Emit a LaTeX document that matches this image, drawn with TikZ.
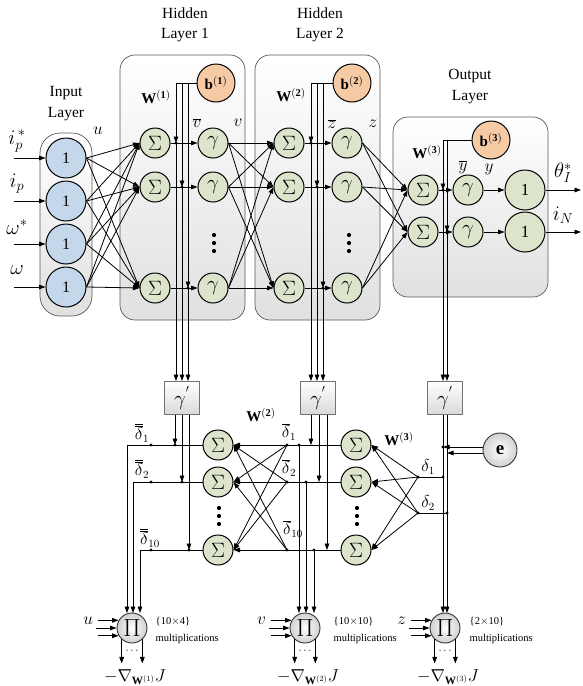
\documentclass[tikz,border=0pt]{standalone}
\usepackage{fontspec}
\setmainfont{Liberation Serif}
\usetikzlibrary{arrows.meta}
\definecolor{nblue}{HTML}{C5D8EB}
\definecolor{ngreen}{HTML}{DCE5CB}
\definecolor{npeach}{HTML}{F7CAA6}
\begin{document}
\begin{tikzpicture}[x=1pt,y=-1pt,
  >={Triangle[length=6.5pt,width=4.6pt]},
  line width=0.8pt,
  every node/.style={font=\fontsize{12}{14}\selectfont},
  neuron/.style={circle,draw,line width=1pt,fill=ngreen,minimum size=30pt,inner sep=0pt,font=\fontsize{21}{23}\selectfont},
  innode/.style={neuron,fill=nblue,minimum size=40pt,font=\fontsize{16}{18}\selectfont},
  unitnode/.style={neuron,minimum size=40pt,font=\fontsize{17}{19}\selectfont},
  biasnode/.style={neuron,fill=npeach,minimum size=38pt,font=\fontsize{15}{17}\selectfont},
  layerbox/.style={draw=black!65,line width=0.7pt,rounded corners=15pt,top color=white,bottom color=black!12},
  gpbox/.style={draw=black!55,line width=0.7pt,top color=white,bottom color=black!15,minimum width=35pt,minimum height=33pt,inner sep=0pt,font=\fontsize{22}{24}\selectfont},
  pinode/.style={circle,draw=black!80,line width=0.9pt,inner color=white,outer color=black!18,minimum size=30pt,inner sep=0pt,font=\fontsize{24}{26}\selectfont},
  conn/.style={->},
  ttl/.style={font=\fontsize{15.5}{18}\selectfont},
  lbl/.style={font=\fontsize{16}{18}\selectfont},
  biglbl/.style={font=\fontsize{20}{22}\selectfont},
  wlbl/.style={font=\fontsize{15}{17}\selectfont},
  small/.style={font=\fontsize{10.5}{12}\selectfont},
]
\useasboundingbox (0,0) rectangle (582,686);

% ---------- layer boxes
\draw[layerbox,rounded corners=20pt] (40,133) rectangle (92,316);
\draw[layerbox] (120,55) rectangle (245,320);
\draw[layerbox] (255,55) rectangle (380,320);
\draw[layerbox] (393,117) rectangle (548,297);

% ---------- titles
\node[ttl] (t1) at (66,93) {Input};
\node[ttl] (t2) at (66,114) {Layer};
\node[ttl] (t3) at (185,13) {Hidden};
\node[ttl] (t4) at (185,35) {Layer 1};
\node[ttl] (t5) at (320,13) {Hidden};
\node[ttl] (t6) at (320,35) {Layer 2};
\node[ttl] (t7) at (470,76) {Output};
\node[ttl] (t8) at (470,97) {Layer};

% ---------- input layer
\node[innode] (in1) at (66,158) {1};
\node[innode] (in2) at (66,201) {1};
\node[innode] (in3) at (66,244) {1};
\node[innode] (in4) at (66,287) {1};
\coordinate (x1) at (14,158);
\coordinate (x2) at (14,201);
\coordinate (x3) at (14,244);
\coordinate (x4) at (14,287);
\foreach \i in {1,...,4} \draw[conn] (x\i) -- (in\i);
\node[biglbl] (li1) at (17,141) {$i_p^{\,*}$};
\node[biglbl] (li2) at (17,184) {$i_p$};
\node[biglbl] (li3) at (17,227) {$\omega^{*}$};
\node[biglbl] (li4) at (17,270) {$\omega$};
\node[lbl] (lu) at (98,131) {$u$};

% ---------- hidden layer 1
\node[neuron] (h1s1) at (155,143) {$\Sigma$};
\node[neuron] (h1s2) at (155,187) {$\Sigma$};
\node[neuron] (h1s3) at (155,288) {$\Sigma$};
\node[neuron] (h1g1) at (213,143) {$\gamma$};
\node[neuron] (h1g2) at (213,187) {$\gamma$};
\node[neuron] (h1g3) at (213,288) {$\gamma$};
\node[biasnode] (b1) at (216,83) {\textbf{b}$^{\mathbf{(1)}}$};
\node[wlbl] (w1) at (156,97) {\textbf{W}$^{\mathbf{(1)}}$};
\node[lbl] (lv1) at (197,123) {$\overline{v}$};
\node[lbl] (lv2) at (238,123) {$v$};
\foreach \y in {235,243,251} \fill (214,\y) circle (2.1);

% ---------- hidden layer 2
\node[neuron] (h2s1) at (289,143) {$\Sigma$};
\node[neuron] (h2s2) at (289,187) {$\Sigma$};
\node[neuron] (h2s3) at (289,288) {$\Sigma$};
\node[neuron] (h2g1) at (347,143) {$\gamma$};
\node[neuron] (h2g2) at (347,187) {$\gamma$};
\node[neuron] (h2g3) at (347,288) {$\gamma$};
\node[biasnode] (b2) at (352,83) {\textbf{b}$^{\mathbf{(2)}}$};
\node[wlbl] (w2) at (291,95) {\textbf{W}$^{\mathbf{(2)}}$};
\node[lbl] (lz1) at (332,124) {$\overline{z}$};
\node[lbl] (lz2) at (373,124) {$z$};
\foreach \y in {235,243,251} \fill (349,\y) circle (2.1);

% ---------- output layer
\node[neuron] (os1) at (423,190) {$\Sigma$};
\node[neuron] (os2) at (423,232) {$\Sigma$};
\node[neuron] (og1) at (468,190) {$\gamma$};
\node[neuron] (og2) at (468,232) {$\gamma$};
\node[unitnode] (oo1) at (525,190) {1};
\node[unitnode] (oo2) at (525,232) {1};
\node[biasnode] (b3) at (491,140) {\textbf{b}$^{\mathbf{(3)}}$};
\node[wlbl] (w3) at (427,152) {\textbf{W}$^{\mathbf{(3)}}$};
\node[lbl] (ly1) at (463,167) {$\overline{y}$};
\node[lbl] (ly2) at (489,169) {$y$};
\coordinate (y1) at (581,190);
\coordinate (y2) at (581,232);
\node[biglbl] (lth) at (563,173) {$\theta_I^{*}$};
\node[biglbl] (liN) at (563,215) {$i_N$};

% ---------- forward connections
\foreach \i in {1,...,4} \foreach \j in {1,2,3} \draw[conn] (in\i.east) -- (h1s\j.west);
\foreach \i in {1,2,3} \draw[conn] (h1s\i) -- (h1g\i);
\foreach \i in {1,2,3} \foreach \j in {1,2,3} \draw[conn] (h1g\i.east) -- (h2s\j.west);
\foreach \i in {1,2,3} \draw[conn] (h2s\i) -- (h2g\i);
\foreach \i in {1,2,3} \foreach \j in {1,2} \draw[conn] (h2g\i.east) -- (os\j.west);
\foreach \j in {1,2} {\draw[conn] (os\j) -- (og\j); \draw[conn] (og\j) -- (oo\j); \draw[conn] (oo\j) -- (y\j);}

% ---------- derivative boxes
\node[gpbox] (gp1) at (182,398) {$\gamma^{'}$};
\node[gpbox] (gp2) at (318,398) {$\gamma^{'}$};
\node[gpbox] (gp3) at (445,398) {$\gamma^{'}$};

% bias lines layer 1
\draw (b1.west) -- (176,83);
\draw[conn] (176,83) -- (176,143);
\draw[conn] (182,83) -- (182,187);
\draw[conn] (188,83) -- (188,288);
\foreach \x/\y in {176/143,182/187,188/288} {\fill (\x,\y) circle (1.7); \draw[conn] (\x,\y) -- (\x,381);}
% bias lines layer 2
\draw (b2.west) -- (311,83);
\draw[conn] (311,83) -- (311,143);
\draw[conn] (317,83) -- (317,187);
\draw[conn] (323,83) -- (323,288);
\foreach \x/\y in {311/143,317/187,323/288} {\fill (\x,\y) circle (1.7); \draw[conn] (\x,\y) -- (\x,381);}
% bias lines output
\draw (b3.west) -- (443,140);
\draw[conn] (443,140) -- (443,190);
\draw[conn] (447,140) -- (447,232);
\foreach \x/\y in {443/190,447/232} {\fill (\x,\y) circle (1.7); \draw[conn] (\x,\y) -- (\x,381);}

% ---------- backward sums
\node[neuron] (bl1) at (218,445) {$\Sigma$};
\node[neuron] (bl2) at (218,482) {$\Sigma$};
\node[neuron] (bl3) at (218,550) {$\Sigma$};
\node[neuron] (br1) at (356,445) {$\Sigma$};
\node[neuron] (br2) at (356,482) {$\Sigma$};
\node[neuron] (br3) at (356,550) {$\Sigma$};
\foreach \y in {508,516,524} {\fill (219,\y) circle (2.1); \fill (357,\y) circle (2.1);}
\node[wlbl] (w2b) at (261,415) {\textbf{W}$^{\mathbf{(2)}}$};
\node[wlbl] (w3b) at (399,439) {\textbf{W}$^{\mathbf{(3)}}$};

% error node
\node[pinode,minimum size=34pt,font=\bfseries\fontsize{19}{21}\selectfont] (e) at (500,450) {e};

% ---------- multiplier nodes
\node[pinode] (p1) at (132,628) {$\Pi$};
\node[pinode] (p2) at (305,628) {$\Pi$};
\node[pinode] (p3) at (445,628) {$\Pi$};

% delta points on right
\coordinate (d1) at (418,477);
\coordinate (d2) at (418,513);
\fill (d1) circle (1.7);
\fill (d2) circle (1.7);
\node[lbl] (ld1) at (428,467) {$\delta_1$};
\node[lbl] (ld2) at (428,503) {$\delta_2$};
\foreach \j in {1,2,3} {\draw[conn] (d1) -- (br\j.east); \draw[conn] (d2) -- (br\j.east);}
\draw (d1) -- (443,477); \fill (443,477) circle (1.7);
\draw (d2) -- (447,513); \fill (447,513) circle (1.7);
\draw[conn] (443,415) -- (443,613);
\draw[conn] (447,415) -- (447,613);
\draw[conn] (e.west |- 0,447) -- (443,447); \fill (443,447) circle (1.7);
\draw[conn] (e.west |- 0,453) -- (447,453);

% middle rows (delta bar)
\foreach \i/\y/\xd/\xg in {1/445/299/311,2/482/306/319,3/550/314/327} {
  \draw[conn] (br\i.west) -- (bl\i.east);
  \fill (287,\y) circle (1.7);
  \fill (\xd,\y) circle (1.7);
  \draw[conn] (\xd,\y) -- (\xd,613);
  \draw[conn] (\xg,415) -- (\xg,\y);
}
\coordinate (m1) at (287,445);
\coordinate (m2) at (287,482);
\coordinate (m3) at (287,550);
\draw[conn] (m1) -- (bl2.east); \draw[conn] (m1) -- (bl3.east);
\draw[conn] (m2) -- (bl1.east); \draw[conn] (m2) -- (bl3.east);
\draw[conn] (m3) -- (bl1.east); \draw[conn] (m3) -- (bl2.east);
\node[lbl] (lm1) at (289,432) {$\overline{\delta}_1$};
\node[lbl] (lm2) at (289,468) {$\overline{\delta}_2$};
\node[lbl] (lm3) at (293,529) {$\overline{\delta}_{10}$};

% left rows (double delta bar)
\foreach \i/\y/\xd/\xg in {1/445/127/175,2/482/133/182,3/550/140/189} {
  \draw[conn] (bl\i.west) -- (\xd,\y) -- (\xd,613);
  \fill (151,\y) circle (1.7);
  \fill (\xg,\y) circle (1.7);
  \draw[conn] (\xg,415) -- (\xg,\y);
}
\node[lbl] (ll1) at (142,433) {$\overline{\overline{\delta}}_1$};
\node[lbl] (ll2) at (142,469) {$\overline{\overline{\delta}}_2$};
\node[lbl] (ll3) at (150,538) {$\overline{\overline{\delta}}_{10}$};

% ---------- multiplier inputs and outputs
\foreach \p/\v in {p1/u,p2/v,p3/z} {
  \foreach \a in {150,180,210} \draw[conn] (\p.\a) ++(-21,0) -- (\p.\a);
  \node[lbl,anchor=east] (lab\p) at ([xshift=-22pt]\p.150) {$\v$};
  \draw[conn] (\p.228) -- ++(0,24);
  \draw[conn] (\p.312) -- ++(0,24);
  \node[font=\fontsize{11}{12}\selectfont] (dots\p) at ([yshift=-23pt]\p.center) {$\cdots$};
}
\node[lbl] (g1) at (135,677) {$-\nabla_{\mathbf{W}^{(1)}}J$};
\node[lbl] (g2) at (308,677) {$-\nabla_{\mathbf{W}^{(2)}}J$};
\node[lbl] (g3) at (448,677) {$-\nabla_{\mathbf{W}^{(3)}}J$};
\node[small,anchor=west] (m1a) at (152,622) {\{10$\times$4\}};
\node[small,anchor=west] (m1b) at (152,639) {multiplications};
\node[small,anchor=west] (m2a) at (330,622) {\{10$\times$10\}};
\node[small,anchor=west] (m2b) at (330,639) {multiplications};
\node[small,anchor=west] (m3a) at (466,622) {\{2$\times$10\}};
\node[small,anchor=west] (m3b) at (466,639) {multiplications};
\end{tikzpicture}
\end{document}
